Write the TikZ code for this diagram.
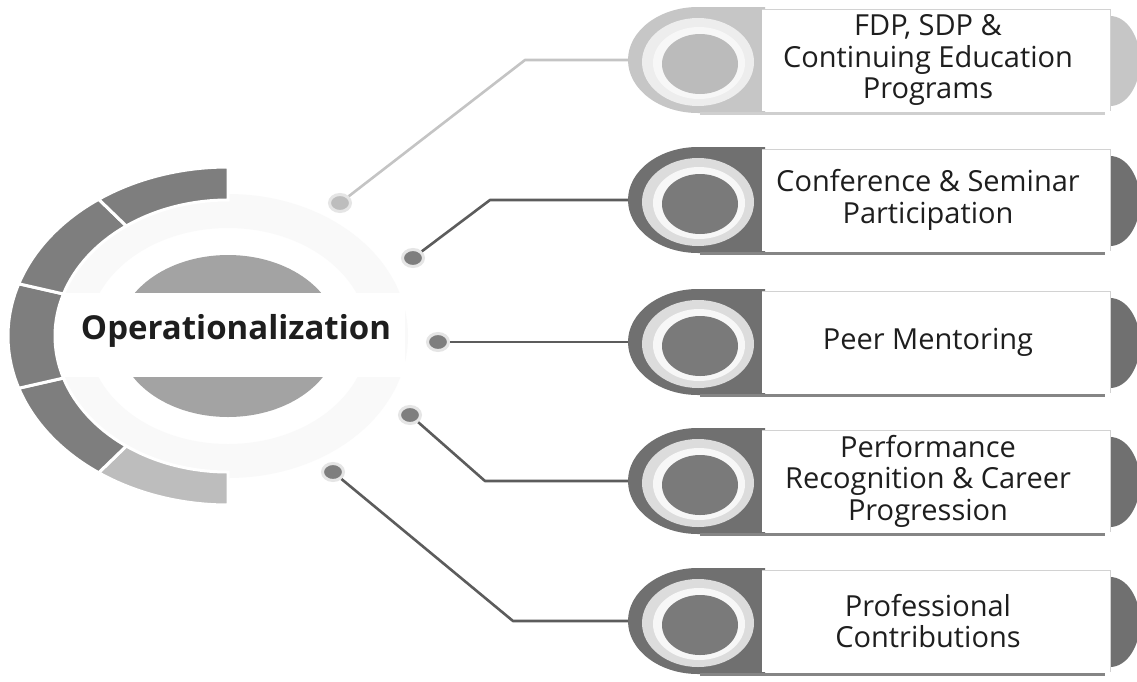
\documentclass[tikz,border=0pt]{standalone}
\usepackage{fontspec}
\setmainfont{Open Sans}
\usetikzlibrary{shapes.geometric,calc}
\definecolor{seg}{HTML}{7E7E7E}
\definecolor{segl}{HTML}{BDBDBD}
\definecolor{cgray}{HTML}{A3A3A3}
\definecolor{dk}{HTML}{707070}
\definecolor{dkin}{HTML}{7A7A7A}
\definecolor{lt}{HTML}{C6C6C6}
\definecolor{ltin}{HTML}{BBBBBB}
\definecolor{ringc}{HTML}{DCDCDC}
\definecolor{txt}{HTML}{1E1E1E}
\definecolor{linedk}{HTML}{5C5C5C}
\definecolor{linelt}{HTML}{C4C4C4}
\tikzset{
  dot/.style={ellipse, minimum width=21pt, minimum height=17pt, inner sep=0pt, draw=gray!20, line width=3pt},
  boxtext/.style={align=center, text=txt, font=\fontsize{29}{31.5}\selectfont},
  conn/.style={line width=2.6pt, linedk, line join=round},
  connlt/.style={line width=2.6pt, linelt, line join=round},
}
\newcommand\optbox[6]{%
  \fill[#3] (765,#2-53) -- (698,#2-53) arc[start angle=270,end angle=90,x radius=70,y radius=53] -- (765,#2+53) -- cycle;
  \draw[#3!85, line width=3pt] (700,#2+53) -- (1105,#2+53);
  \fill[#3] (1110,#2-44) arc[start angle=270,end angle=450,x radius=30,y radius=45] -- cycle;
  \fill[white] (762,#2-51) rectangle (1110,#2+51);
  \draw[gray!35, line width=0.8pt] (762,#2-51) -- (1110,#2-51) -- (1110,#2+51);
  \node[ellipse, minimum width=112pt, minimum height=88pt, inner sep=0pt, fill=#6] (r#1) at (698,#2+2) {};
  \fill[gray!6] (699,#2+3) ellipse[x radius=46, y radius=36];
  \node[ellipse, minimum width=76pt, minimum height=60pt, inner sep=0pt, fill=#4] (i#1) at (700,#2+4) {};
  \coordinate (b#1) at (628,#2);
  \node[boxtext] (t#1) at (928,#2) {#5};
}
\begin{document}
\begin{tikzpicture}[x=1pt,y=-1pt]
\useasboundingbox (0,0) rectangle (1137,681);
\fill[white] (0,0) rectangle (1137,681);
\coordinate (C) at (228,336);
% soft ring around the hub
\fill[gray!5, even odd rule] (C) ellipse[x radius=180, y radius=142] (C) ellipse[x radius=140, y radius=108];
\fill[cgray] (C) ellipse[x radius=110, y radius=81];
\fill[white] (50,293) rectangle (405,377);
% outer C ring
\foreach \a/\col [evaluate=\a as \b using int(\a+36)] in {90/segl,126/seg,162/seg,198/seg,234/seg}{
  \fill[\col, draw=white, line width=3pt] ($(C)+(\a:220 and 169)$) arc[start angle=\a, end angle=\b, x radius=220, y radius=169]
    -- ($(C)+(\b:173 and 136)$) arc[start angle=\b, end angle=\a, x radius=173, y radius=136] -- cycle;
}
\node[font=\bfseries\fontsize{33}{38}\selectfont, text=txt] (op) at (236,331) {Operationalization};
% dots
\node[dot, fill=segl] (d1) at (340,203) {};
\node[dot, fill=seg] (d2) at (413,258) {};
\node[dot, fill=seg] (d3) at (438,342) {};
\node[dot, fill=seg] (d4) at (410,415) {};
\node[dot, fill=seg] (d5) at (333,472) {};
% boxes
\optbox{1}{60}{lt}{ltin}{FDP, SDP \&\\Continuing Education\\Programs}{gray!14}
\optbox{2}{200}{dk}{dkin}{Conference \& Seminar\\Participation}{ringc}
\optbox{3}{342}{dk}{dkin}{Peer Mentoring}{ringc}
\optbox{4}{481}{dk}{dkin}{Performance\\Recognition \& Career\\Progression}{ringc}
\optbox{5}{621}{dk}{dkin}{Professional\\Contributions}{ringc}
% connectors
\coordinate (k1) at (525,60);
\coordinate (k2) at (490,200);
\coordinate (k4) at (485,481);
\coordinate (k5) at (513,621);
\draw[connlt] (d1) -- (k1) -- (b1);
\draw[conn] (d2) -- (k2) -- (b2);
\draw[conn] (d3) -- (b3);
\draw[conn] (d4) -- (k4) -- (b4);
\draw[conn] (d5) -- (k5) -- (b5);
\end{tikzpicture}
\end{document}
